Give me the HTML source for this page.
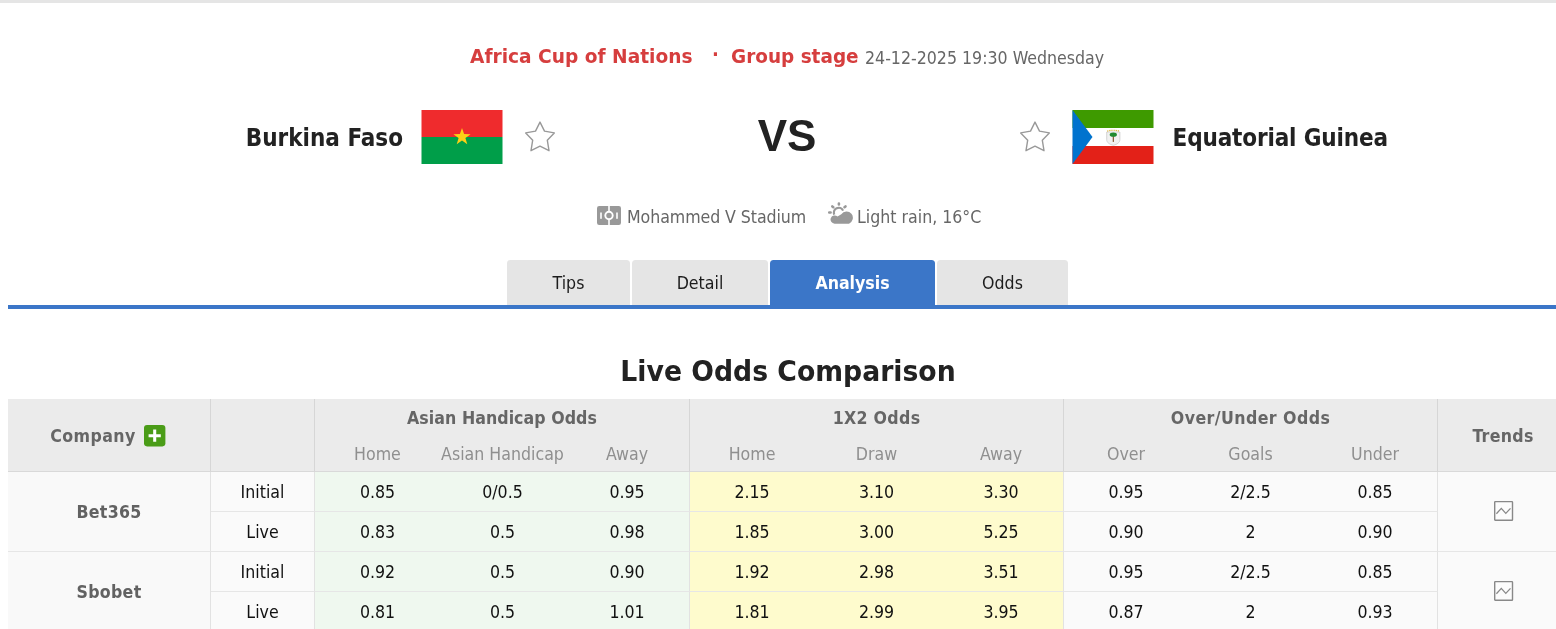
<!DOCTYPE html>
<html lang="en">
<head>
<meta charset="utf-8">
<title>Burkina Faso VS Equatorial Guinea - Live Odds Comparison</title>
<style>
*{box-sizing:border-box;margin:0;padding:0}
html,body{width:1556px;height:629px;overflow:hidden;background:#fff}
body{position:relative;font-family:"DejaVu Sans Condensed","Liberation Sans",sans-serif;font-size:17.6px;color:#222}
.abs{position:absolute;white-space:nowrap}
.topbar{position:absolute;left:0;top:0;width:1556px;height:3px;background:#e5e5e5}
.league{left:470px;top:44px;font-family:"DejaVu Sans","Liberation Sans",sans-serif;font-size:20px;font-weight:bold;color:#d63e3e;line-height:24px;transform:scaleX(.93);transform-origin:0 0}
.dot{left:712px;top:42px;font-size:20px;font-weight:bold;color:#d63e3e;line-height:24px}
.stage{left:731px;top:44px;font-family:"DejaVu Sans","Liberation Sans",sans-serif;font-size:20px;font-weight:bold;color:#d63e3e;line-height:24px;transform:scaleX(.922);transform-origin:0 0}
.date{left:865px;top:46.7px;font-size:17.6px;color:#666;line-height:22px}
.team{font-size:24px;font-weight:bold;color:#222;line-height:30px;top:122.5px}
.home{right:1153px;text-align:right}
.away{left:1172.6px;letter-spacing:-.16px}
.flag{position:absolute;top:110px;width:81px;height:54px;display:block}
.star{position:absolute;top:119px;width:36px;height:36px;display:block}
.vs{left:687px;width:200px;text-align:center;top:110px;font-family:"Liberation Sans",sans-serif;font-size:44px;font-weight:bold;line-height:52px;color:#222}
.info{color:#666;font-size:17.6px;line-height:22px;top:205.9px}
.ico{position:absolute;display:block}
.tabs{position:absolute;left:8px;top:260px;width:1560px;height:49px;border-bottom:4px solid #3b76c8}
.tab{position:absolute;top:0;height:45px;line-height:46.6px;text-align:center;background:#e5e5e5;color:#1c1c1c;border-radius:3.5px 3.5px 0 0;font-size:17.6px}
.tab.on{background:#3b76c8;color:#fff;font-weight:bold}
h2{position:absolute;left:8px;width:1560px;top:354px;text-align:center;font-family:"DejaVu Sans","Liberation Sans",sans-serif;font-size:28px;line-height:36px;font-weight:bold;color:#222;transform:scaleX(.953);transform-origin:780px 0}
table{position:absolute;left:8px;top:399px;width:1560px;border-collapse:separate;border-spacing:0;table-layout:fixed;font-size:17.6px}
th,td{text-align:center;vertical-align:middle;white-space:nowrap;overflow:hidden}
thead th{background:#ebebeb;color:#666;font-weight:bold;height:36px;padding-top:2px;letter-spacing:.05px;position:relative}
thead tr.sub th{font-weight:normal;letter-spacing:0;color:#8f8f8f;border-bottom:1px solid #d9d9d9;height:37px}
thead th.rs{border-bottom:1px solid #d9d9d9}
.br{border-right:1px solid #d6d6d6}
tbody td.br{border-right-color:#e2e2e2}
tbody td{height:40px;border-bottom:1px solid #e6e6e6;background:#fafafa;color:#111}
tbody td.co{font-weight:bold;letter-spacing:.3px;color:#626262;background:#f9f9f9}
tbody td.ah{background:#eff8ef}
tbody td.eu{background:#fefbcd}
.plus{position:absolute;left:136.2px;top:26.4px;width:21.4px;height:21.4px}
.tc{position:relative}
.tr{position:absolute;left:55px;top:28px}
</style>
</head>
<body>
<div class="topbar"></div>

<div class="abs league">Africa Cup of Nations</div>
<div class="abs dot">·</div>
<div class="abs stage">Group stage</div>
<div class="abs date">24-12-2025 19:30 Wednesday</div>

<div class="abs team home">Burkina Faso</div>
<svg class="flag" style="left:421px;width:82px" viewBox="0 0 82 54"><g transform="translate(.5 0)"><rect width="81" height="27" fill="#ef2b2d"/><rect y="27" width="81" height="27" fill="#009e49"/><polygon fill="#fcd116" points="40.5,18 42.6,24.1 49.1,24.2 43.9,28.1 45.8,34.3 40.5,30.6 35.2,34.3 37.1,28.1 31.9,24.2 38.4,24.1"/></g></svg>
<svg class="star" style="left:522px" viewBox="0 0 36 36"><polygon fill="none" stroke="#999" stroke-width="1.4" stroke-linejoin="round" points="18,3.1 22.5,12.1 32.3,13.9 25.3,21.2 27,31.7 18,27.1 9,31.7 10.7,21.2 3.7,13.9 13.5,12.1"/></svg>

<div class="abs vs">VS</div>

<svg class="star" style="left:1017px" viewBox="0 0 36 36"><polygon fill="none" stroke="#999" stroke-width="1.4" stroke-linejoin="round" points="18,3.1 22.5,12.1 32.3,13.9 25.3,21.2 27,31.7 18,27.1 9,31.7 10.7,21.2 3.7,13.9 13.5,12.1"/></svg>
<svg class="flag" style="left:1072px;width:82px" viewBox="0 0 82 54"><g transform="translate(.5 0)"><rect width="81" height="54" fill="#fff"/><rect width="81" height="18" fill="#3e9a00"/><rect y="36" width="81" height="18" fill="#e32118"/><polygon fill="#0073ce" points="0,0 20,27 0,54"/><path d="M34.2 22h13.200v7.600c0 3-2.700 4.700-6.600 5.700-3.900-1-6.600-2.700-6.600-5.700z" fill="#f1f1f1" stroke="#c4c4c4" stroke-width=".7"/><rect x="40.250" y="25.500" width="1.100" height="6.400" fill="#7b4a1e"/><ellipse cx="40.800" cy="24.700" rx="3.600" ry="2.100" fill="#1f8a2f"/><path d="M34.600 21.100q6.200-1.700 12.400 0" fill="none" stroke="#dcb43a" stroke-width="1.200" stroke-dasharray="1.300 .85"/></g></svg>
<div class="abs team away">Equatorial Guinea</div>

<svg class="ico" style="left:597px;top:206px" width="24" height="19" viewBox="0 0 24 19"><rect width="24" height="19" rx="2.2" fill="#999"/><rect x="11.2" y="0" width="1.6" height="19" fill="#fff"/><circle cx="12" cy="9.5" r="3.7" fill="#999" stroke="#fff" stroke-width="1.9"/><rect x="3.2" y="6.5" width="1.6" height="6.3" fill="#fff"/><rect x="19.2" y="6.5" width="1.6" height="6.3" fill="#fff"/></svg>
<div class="abs info" style="left:627px;letter-spacing:-.07px">Mohammed V Stadium</div>
<svg class="ico" style="left:827px;top:201px" width="28" height="24" viewBox="0 0 28 24"><g fill="none" stroke="#999"><path d="M7.300 13.700A4.850 4.850 0 0 1 16.100 9.600" stroke-width="2.150"/><path stroke-linecap="round" d="M11.900 2.450v.95M5.300 5.400l1 .8M18.500 5.400l-1 .8M2.250 11.500h1.350" stroke-width="2.600"/></g><path fill="#999" stroke="#fff" stroke-width="1.200" paint-order="stroke" d="M7.600 22.650A4.100 4.100 0 1 1 10.500 15.600L14.300 13.200A6.350 6.350 0 1 1 22 22.650Z"/></svg>
<div class="abs info" style="left:857px">Light rain, 16°C</div>

<div class="tabs">
<div class="tab" style="left:499px;width:123px">Tips</div>
<div class="tab" style="left:624px;width:136px">Detail</div>
<div class="tab on" style="left:762px;width:165px">Analysis</div>
<div class="tab" style="left:929px;width:131px">Odds</div>
</div>

<h2>Live Odds Comparison</h2>

<table>
<colgroup><col style="width:203px"><col style="width:104px"><col style="width:125px"><col style="width:125px"><col style="width:125px"><col style="width:124px"><col style="width:125px"><col style="width:125px"><col style="width:124px"><col style="width:125px"><col style="width:125px"><col style="width:130px"></colgroup>
<thead>
<tr><th rowspan="2" class="rs br" style="padding-right:32px;letter-spacing:.4px">Company<svg class="plus" viewBox="0 0 21 21"><rect width="21" height="21" rx="3" fill="#4a9c17"/><path d="M4.500 10.500h12M10.500 4.500v12" stroke="#fff" stroke-width="3"/></svg></th><th rowspan="2" class="rs br"></th><th colspan="3" class="br">Asian Handicap Odds</th><th colspan="3" class="br" style="letter-spacing:.3px">1X2 Odds</th><th colspan="3" class="br" style="letter-spacing:.42px">Over/Under Odds</th><th rowspan="2" class="rs" style="letter-spacing:.3px">Trends</th></tr>
<tr class="sub"><th>Home</th><th>Asian Handicap</th><th class="br">Away</th><th>Home</th><th>Draw</th><th class="br">Away</th><th>Over</th><th>Goals</th><th class="br">Under</th></tr>
</thead>
<tbody>
<tr><td rowspan="2" class="co br">Bet365</td><td class="br">Initial</td><td class="ah">0.85</td><td class="ah">0/0.5</td><td class="ah br">0.95</td><td class="eu">2.15</td><td class="eu">3.10</td><td class="eu br">3.30</td><td>0.95</td><td>2/2.5</td><td class="br">0.85</td><td rowspan="2" class="tc"><svg class="tr" width="22" height="23" viewBox="0 0 22 23"><rect x="1.700" y="1.600" width="17.800" height="18.700" rx=".6" fill="#fcfcfc" stroke="#888" stroke-width="1.400"/><path d="M3.400 13.800l4.900-5.400 4.500 5 4.700-5" fill="none" stroke="#888" stroke-width="1.300"/></svg></td></tr>
<tr><td class="br">Live</td><td class="ah">0.83</td><td class="ah">0.5</td><td class="ah br">0.98</td><td class="eu">1.85</td><td class="eu">3.00</td><td class="eu br">5.25</td><td>0.90</td><td>2</td><td class="br">0.90</td></tr>
<tr><td rowspan="2" class="co br">Sbobet</td><td class="br">Initial</td><td class="ah">0.92</td><td class="ah">0.5</td><td class="ah br">0.90</td><td class="eu">1.92</td><td class="eu">2.98</td><td class="eu br">3.51</td><td>0.95</td><td>2/2.5</td><td class="br">0.85</td><td rowspan="2" class="tc"><svg class="tr" width="22" height="23" viewBox="0 0 22 23"><rect x="1.700" y="1.600" width="17.800" height="18.700" rx=".6" fill="#fcfcfc" stroke="#888" stroke-width="1.400"/><path d="M3.400 13.800l4.900-5.400 4.500 5 4.700-5" fill="none" stroke="#888" stroke-width="1.300"/></svg></td></tr>
<tr><td class="br">Live</td><td class="ah">0.81</td><td class="ah">0.5</td><td class="ah br">1.01</td><td class="eu">1.81</td><td class="eu">2.99</td><td class="eu br">3.95</td><td>0.87</td><td>2</td><td class="br">0.93</td></tr>
</tbody>
</table>
</body>
</html>
